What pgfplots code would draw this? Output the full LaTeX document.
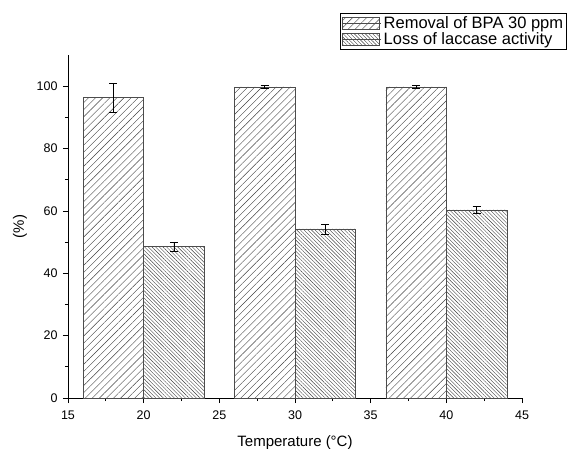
\documentclass[border=0pt]{standalone}
\usepackage{pgfplots}
\pgfplotsset{compat=1.18}
\usepackage{fontspec}
\setmainfont{Liberation Sans}
\usetikzlibrary{patterns.meta}
\begin{document}
\begin{tikzpicture}
\begin{axis}[
  scale only axis,
  width=454pt, height=343pt,
  xmin=15, xmax=45, ymin=0, ymax=110,
  axis x line=bottom, axis y line=left,
  axis line style={-, line width=0.9pt},
  xtick={15,20,...,45}, ytick={0,20,...,100},
  minor x tick num=1, minor y tick num=1,
  tick align=outside,
  major tick length=5pt, minor tick length=3pt,
  tick style={black, line width=0.8pt},
  /pgf/number format/assume math mode=true,
  ticklabel style={font=\fontsize{12.5}{14}\selectfont},
  yticklabel style={xshift=-2pt},
  xticklabel style={yshift=-4pt},
  xlabel={Temperature (°C)}, ylabel={(\%)},
  label style={font=\fontsize{15}{17}\selectfont},
  xlabel style={at={(axis description cs:0.5,-0.14)}, anchor=base},
  ylabel style={at={(axis description cs:-0.106,0.5)}, anchor=center},
  legend style={at={(1.099,1.122)}, anchor=north east, draw=black, line width=0.6pt,
    font=\fontsize{16.5}{18}\selectfont, inner sep=1.5pt, row sep=-2pt, cells={anchor=west}},
  legend image code/.code={\draw[#1] (0pt,-6pt) rectangle (37pt,6pt); \path (0pt,0pt) -- (39pt,0pt);},
  clip=false,
]
\coordinate (bl) at (rel axis cs:0,0);
\addplot[ybar, bar width=4, bar shift=0pt, draw=black!70, line width=0.6pt,
  pattern={Lines[angle=45, distance=5pt, line width=0.4pt]}, pattern color=black!75,
  error bars/.cd, y dir=both, y explicit, error bar style={black, line width=0.6pt}, error mark options={rotate=90, mark size=4pt, black}]
  coordinates {(18,96.4) +- (0,4.6) (28,99.8) +- (0,0.5) (38,99.8) +- (0,0.5)};
\addlegendentry{Removal of BPA 30 ppm}
\addplot[ybar, bar width=4, bar shift=0pt, draw=black!70, line width=0.6pt,
  pattern={Lines[angle=-45, distance=2.6pt, line width=0.4pt]}, pattern color=black!75,
  error bars/.cd, y dir=both, y explicit, error bar style={black, line width=0.6pt}, error mark options={rotate=90, mark size=4pt, black}]
  coordinates {(22,48.5) +- (0,1.5) (32,54.2) +- (0,1.6) (42,60.3) +- (0,1.1)};
\addlegendentry{Loss of laccase activity}
\end{axis}
\pgfresetboundingbox
\path ([shift={(-68pt,-50pt)}]bl) rectangle ([shift={(501pt,398pt)}]bl);
\end{tikzpicture}
\end{document}
